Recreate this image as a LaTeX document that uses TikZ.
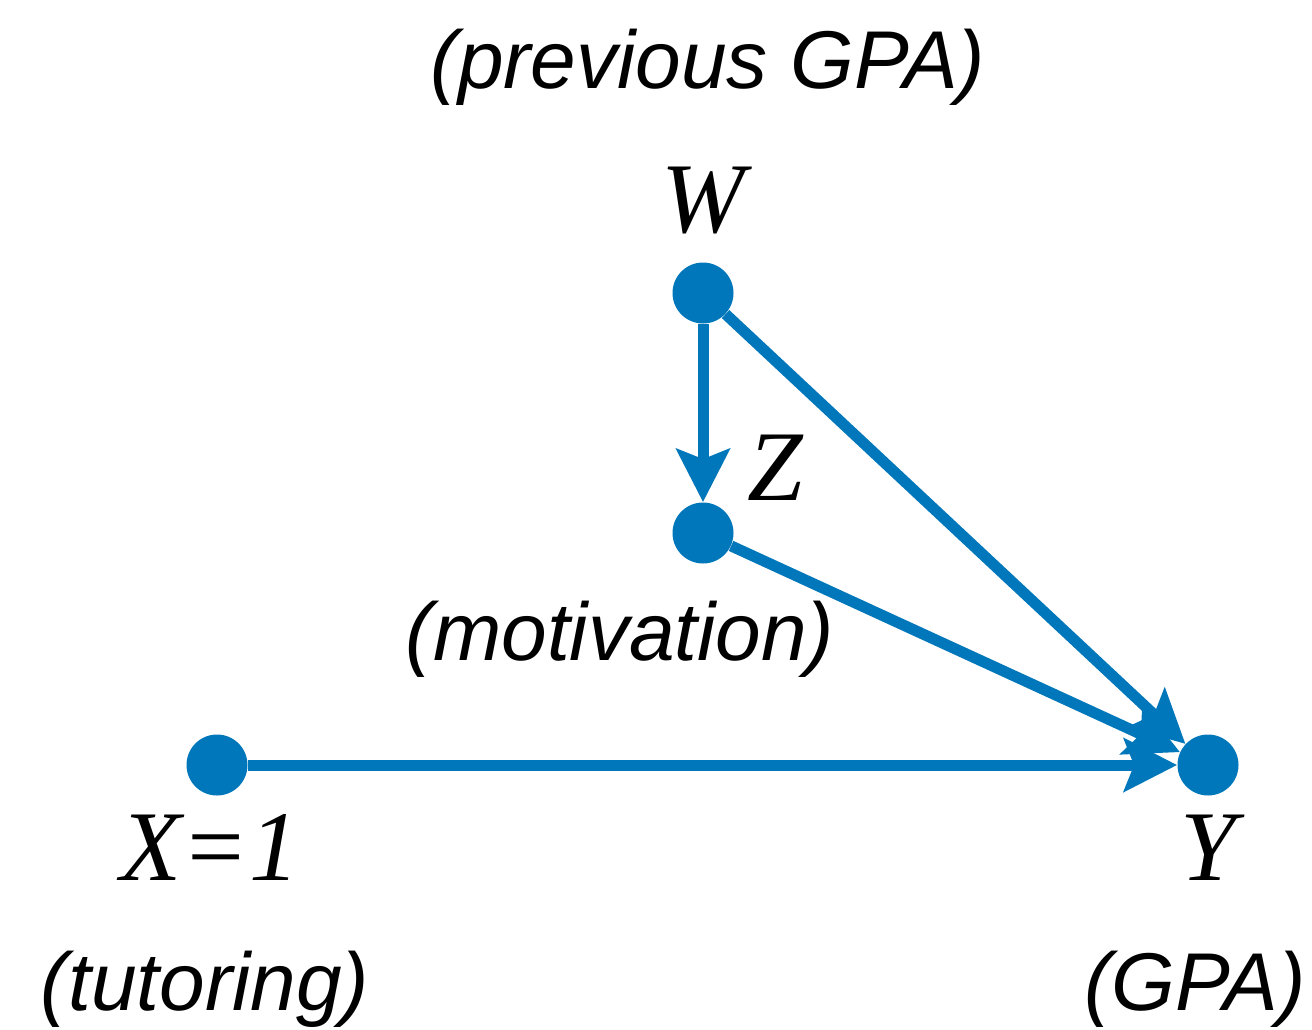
\documentclass[tikz,border=0pt]{standalone}
\usepackage{fontspec}
\usetikzlibrary{arrows.meta}
\newfontfamily\capfont{Liberation Sans}
\newfontfamily\varfont{Liberation Serif}
\definecolor{dag-blue}{HTML}{0077BB}

\begin{document}
\begin{tikzpicture}[
    x=0.5pt, y=-0.5pt,
    >={Stealth[length=26.5pt, width=26.5pt, inset=5pt]}
  ]
  \tikzset{
    dot/.style={circle, fill=dag-blue, inner sep=0pt, minimum size=30.5pt},
    varlabel/.style={anchor=base, inner sep=0pt, font=\varfont\itshape\fontsize{50}{60}\selectfont},
    caplabel/.style={anchor=base, inner sep=0pt, font=\capfont\itshape\fontsize{41}{50}\selectfont},
    arrow/.style={->, dag-blue, line width=5.5pt}
  }
  \useasboundingbox (0,0) rectangle (1312,1029);

  % dots
  \node (w) [dot] at (703,293) {};
  \node (z) [dot] at (703,533) {};
  \node (x) [dot] at (217,765) {};
  \node (y) [dot] at (1208,765) {};

  % arrows
  \draw[arrow] (w) -- (z);
  \draw[arrow] (w) -- (y);
  \draw[arrow] (z) -- (y);
  \draw[arrow] (x) -- (y);

  % labels
  \node (wlab) [varlabel] at (703,232) {W};
  \node (zlab) [varlabel] at (775,500) {Z};
  \node (xlab) [varlabel] at (210,880) {X=1};
  \node (ylab) [varlabel] at (1208,880) {Y};
  \node (wcap) [caplabel] at (708,88) {(previous GPA)};
  \node (zcap) [caplabel] at (620,660) {(motivation)};
  \node (xcap) [caplabel] at (205,1010) {(tutoring)};
  \node (ycap) [caplabel] at (1195,1010) {(GPA)};
\end{tikzpicture}
\end{document}
